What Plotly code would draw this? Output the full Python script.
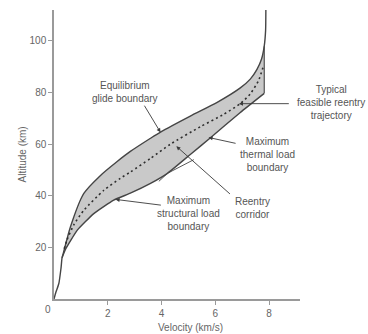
import numpy as np
import plotly.graph_objects as go

# ---- data (velocity km/s, altitude km) ----
upper_v = [0.0, 0.07, 0.18, 0.26, 0.30, 0.35, 0.61, 1.11, 1.73, 2.35, 2.84, 3.59, 3.96, 5.07, 6.07, 6.93, 7.30, 7.55, 7.72, 7.82, 7.87, 7.88]
upper_h = [0.0, 2.6, 6.0, 11.9, 16.0, 17.9, 27.9, 40.9, 47.9, 53.3, 57.2, 62.3, 64.7, 70.9, 76.2, 81.8, 85.2, 89.0, 93.0, 98.0, 104.0, 112.0]

lower_v = [0.30, 0.43, 0.86, 1.48, 2.22, 2.84, 3.59, 4.22, 5.07, 5.82, 6.93, 7.82]
lower_h = [16.0, 19.3, 26.6, 33.1, 38.3, 41.0, 44.8, 48.7, 56.0, 62.5, 72.3, 79.7]

struct_ext_v = [4.22, 5.20]
struct_ext_h = [48.7, 54.0]
thermal_ext_v = [3.90, 4.22]
thermal_ext_h = [45.6, 48.7]

traj_v = [0.38, 0.48, 0.75, 1.11, 1.85, 2.47, 2.84, 3.59, 4.33, 5.45, 6.30, 6.93, 7.30, 7.60, 7.80]
traj_h = [19.5, 22.8, 29.0, 34.4, 42.1, 46.8, 49.2, 54.5, 60.0, 66.8, 71.5, 75.7, 79.5, 84.5, 90.6]

x_ticks = [2, 4, 6, 8]
y_ticks = [20, 40, 60, 80, 100]

# ---- layout geometry ----
W, H = 368, 334
ML, MR, MT, MB = 54, 68, 10, 35
PW, PH = W - ML - MR, H - MT - MB


def pxp(px, py):
    return (px - ML) / PW, (H - MB - py) / PH


LINE = "#454545"
TXT = "#666666"
FONT = "Liberation Sans, Arial, sans-serif"

fig = go.Figure()

# corridor fill polygon
uv = np.array(upper_v); uh = np.array(upper_h)
xr = lower_v[-1]
mask = (uv >= lower_v[0]) & (uv < xr)
top_h = float(np.interp(xr, uv, uh))
poly_v = list(uv[mask]) + [xr] + lower_v[::-1]
poly_h = list(uh[mask]) + [top_h] + lower_h[::-1]
fig.add_trace(go.Scatter(x=poly_v, y=poly_h, fill="toself", fillcolor="#c9c9c9",
                         line=dict(width=0), mode="lines", hoverinfo="skip"))

# right edge of corridor
fig.add_trace(go.Scatter(x=[xr, xr], y=[lower_h[-1], top_h], mode="lines",
                         line=dict(color=LINE, width=1.1)))

# boundaries
fig.add_trace(go.Scatter(x=upper_v, y=upper_h, mode="lines",
                         line=dict(color=LINE, width=1.4, shape="spline", smoothing=0.6)))
fig.add_trace(go.Scatter(x=lower_v, y=lower_h, mode="lines",
                         line=dict(color=LINE, width=1.4, shape="spline", smoothing=0.4)))
fig.add_trace(go.Scatter(x=struct_ext_v, y=struct_ext_h, mode="lines",
                         line=dict(color=LINE, width=0.9)))
fig.add_trace(go.Scatter(x=thermal_ext_v, y=thermal_ext_h, mode="lines",
                         line=dict(color=LINE, width=0.9)))

# typical trajectory
fig.add_trace(go.Scatter(x=traj_v, y=traj_h, mode="lines",
                         line=dict(color="#2e2e2e", width=1.6, dash="2px,3px",
                                   shape="spline", smoothing=0.6)))

annotations = []

# arrows (data coords)
arrows = [
    ((3.96, 64.6), (3.33, 75.5)),   # glide
    ((6.88, 75.7), (8.79, 75.7)),   # typical
    ((5.75, 62.6), (6.81, 60.2)),   # thermal
    ((2.29, 38.6), (4.03, 36.3)),   # structural
    ((4.55, 59.2), (6.60, 40.2)),   # corridor
]
for (hx, hy), (tx, ty) in arrows:
    annotations.append(dict(x=hx, y=hy, xref="x", yref="y", ax=tx, ay=ty,
                            axref="x", ayref="y", text="", showarrow=True,
                            arrowhead=2, arrowsize=0.9, arrowwidth=0.9,
                            arrowcolor="#3a3a3a", standoff=0))

labels = [
    ("Equilibrium<br>glide boundary", 125, 92),
    ("Typical<br>feasible reentry<br>trajectory", 331, 102),
    ("Maximum<br>thermal load<br>boundary", 267, 154),
    ("Maximum<br>structural load<br>boundary", 188, 214),
    ("Reentry<br>corridor", 252, 208),
]
for t, px, py in labels:
    x, y = pxp(px, py)
    annotations.append(dict(x=x, y=y, xref="paper", yref="paper", text=t,
                            showarrow=False, xanchor="center", yanchor="middle",
                            font=dict(family=FONT, size=10, color="#555555")))

# axis titles and corner zero
x, y = pxp(190.5, 327)
annotations.append(dict(x=x, y=y, xref="paper", yref="paper", text="Velocity (km/s)",
                        showarrow=False, xanchor="center", yanchor="middle",
                        font=dict(family=FONT, size=10, color=TXT)))
x, y = pxp(22, 154.5)
annotations.append(dict(x=x, y=y, xref="paper", yref="paper", text="Altitude (km)",
                        showarrow=False, xanchor="center", yanchor="middle", textangle=-90,
                        font=dict(family=FONT, size=10, color=TXT)))
x, y = pxp(48, 309)
annotations.append(dict(x=x, y=y, xref="paper", yref="paper", text="0",
                        showarrow=False, xanchor="center", yanchor="middle",
                        font=dict(family=FONT, size=10, color=TXT)))

axis_common = dict(showline=True, linecolor="#9a9a9a", linewidth=1.5, ticks="outside",
                   ticklen=4, tickcolor="#9a9a9a", tickwidth=1.2, showgrid=False,
                   zeroline=False, tickfont=dict(family=FONT, size=10, color=TXT))

fig.update_layout(
    width=W, height=H, margin=dict(l=ML, r=MR, t=MT, b=MB, pad=0),
    paper_bgcolor="white", plot_bgcolor="white", showlegend=False,
    xaxis=dict(range=[0, 9.15], tickvals=x_ticks, **axis_common),
    yaxis=dict(range=[0, 112], tickvals=y_ticks, **axis_common),
    annotations=annotations,
)

fig.write_html("out.html")
